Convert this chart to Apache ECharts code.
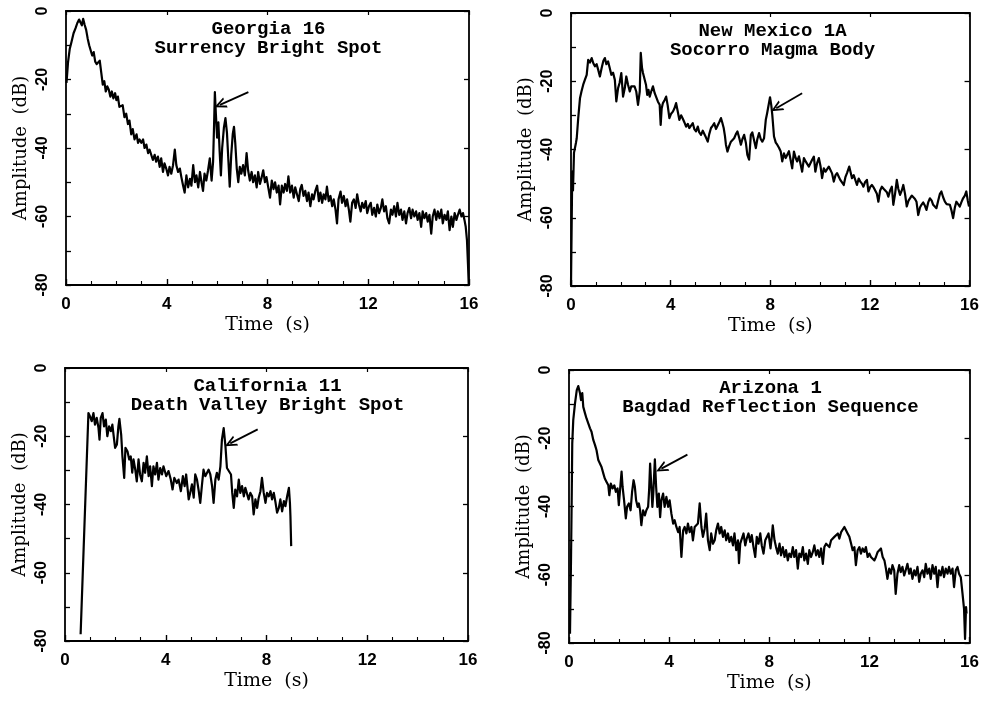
<!DOCTYPE html>
<html>
<head>
<meta charset="utf-8">
<script src="https://cdn.jsdelivr.net/npm/echarts@6/dist/echarts.min.js"></script>
<style>
  html, body { margin: 0; padding: 0; background: #fff; }
  #chart { width: 982px; height: 702px; }
</style>
</head>
<body>
<div id="chart"></div>
<script>
// time (s), amplitude (dB)
const georgia16 = [[0.02,-21],[0.08,-15],[0.15,-11],[0.22,-9],[0.3,-6.5],[0.38,-5],[0.45,-3.5],[0.52,-2.5],[0.58,-2],[0.63,-4.2],[0.68,-2.3],[0.74,-4],[0.8,-5.5],[0.86,-8],[0.92,-10],[0.98,-10.5],[1.04,-13],[1.1,-12],[1.16,-14.8],[1.22,-15.5],[1.28,-16],[1.34,-14.5],[1.4,-18],[1.46,-21.5],[1.52,-20.5],[1.58,-23.5],[1.64,-22],[1.7,-23],[1.76,-25],[1.82,-23.5],[1.88,-25.5],[1.95,-24],[2.0,-26],[2.06,-25],[2.12,-28],[2.19,-28.5],[2.25,-27.5],[2.32,-31],[2.39,-30],[2.46,-33],[2.52,-32],[2.59,-36],[2.65,-34.5],[2.72,-37.5],[2.8,-36],[2.86,-38.5],[2.92,-37.5],[2.99,-38.5],[3.06,-37.5],[3.12,-40],[3.19,-39],[3.26,-41.5],[3.32,-40.5],[3.39,-41],[3.45,-43.5],[3.52,-42],[3.58,-44],[3.65,-42.5],[3.72,-45.5],[3.78,-43],[3.85,-47],[3.91,-44.5],[3.98,-46],[4.05,-48],[4.11,-45.5],[4.18,-47.5],[4.25,-45],[4.32,-40.5],[4.38,-45],[4.45,-47],[4.52,-46],[4.58,-48.5],[4.65,-51],[4.71,-53],[4.78,-48],[4.85,-51.5],[4.92,-49],[4.98,-51],[5.05,-45],[5.12,-50],[5.18,-48],[5.25,-51.5],[5.32,-47],[5.38,-50],[5.44,-52.5],[5.5,-47.5],[5.57,-49.5],[5.64,-46.5],[5.71,-43],[5.78,-49.5],[5.84,-44],[5.88,-33],[5.91,-23.7],[5.95,-30],[6.0,-37],[6.05,-32.5],[6.1,-41],[6.15,-48],[6.2,-40],[6.27,-34],[6.33,-31.3],[6.39,-35.5],[6.45,-44],[6.5,-51.3],[6.56,-42],[6.62,-36],[6.67,-33.8],[6.72,-38.5],[6.78,-46],[6.84,-50],[6.9,-45.5],[6.96,-47.5],[7.03,-45],[7.1,-48],[7.17,-41.5],[7.23,-46.5],[7.3,-49.5],[7.37,-47],[7.43,-50],[7.5,-48],[7.57,-51.5],[7.63,-47],[7.7,-50.5],[7.77,-48.5],[7.83,-46.5],[7.9,-50],[7.96,-48.5],[8.03,-51.5],[8.1,-54.5],[8.17,-49.5],[8.24,-52],[8.3,-50],[8.37,-53],[8.44,-51],[8.5,-56.5],[8.57,-51],[8.64,-53],[8.7,-50.5],[8.77,-52.5],[8.83,-48.3],[8.9,-53],[8.97,-51],[9.04,-54.5],[9.1,-51.5],[9.17,-53.5],[9.24,-55.5],[9.3,-52],[9.36,-50.8],[9.43,-54],[9.5,-52.5],[9.57,-55.5],[9.63,-53],[9.7,-57],[9.77,-53.5],[9.83,-55],[9.9,-52.5],[9.97,-51],[10.04,-55.5],[10.1,-53],[10.17,-56],[10.23,-53.5],[10.3,-55],[10.36,-51.3],[10.43,-55.5],[10.5,-54],[10.57,-57],[10.63,-55],[10.7,-58],[10.76,-62],[10.82,-55],[10.9,-52.7],[10.96,-56],[11.03,-54],[11.1,-57],[11.16,-55],[11.23,-58],[11.29,-61.5],[11.36,-56],[11.43,-55],[11.5,-57.5],[11.56,-53.5],[11.63,-56.5],[11.7,-58.5],[11.76,-56],[11.83,-57.5],[11.9,-55.5],[11.96,-59],[12.03,-57],[12.1,-56],[12.16,-59.5],[12.23,-57.5],[12.3,-60],[12.36,-56.5],[12.43,-59],[12.5,-57.5],[12.56,-55],[12.63,-58.5],[12.7,-57],[12.76,-60.5],[12.83,-62],[12.9,-58],[12.96,-59.5],[13.03,-57],[13.1,-60],[13.16,-56],[13.23,-59.5],[13.3,-58],[13.36,-61],[13.43,-58.5],[13.5,-62],[13.56,-59],[13.63,-57.5],[13.7,-60.5],[13.76,-58],[13.83,-60],[13.9,-58.5],[13.96,-61],[14.03,-59],[14.1,-63],[14.16,-58.5],[14.23,-60.5],[14.3,-59],[14.36,-61.5],[14.43,-59.5],[14.5,-65],[14.56,-60],[14.63,-58],[14.7,-61],[14.76,-58.5],[14.83,-60.5],[14.9,-58],[14.96,-62],[15.03,-59.5],[15.1,-61],[15.16,-58.5],[15.23,-64],[15.3,-60],[15.36,-63],[15.43,-59],[15.5,-61],[15.56,-59.5],[15.63,-58],[15.7,-60],[15.76,-59],[15.82,-61],[15.87,-63],[15.92,-67],[15.96,-74],[15.99,-80]];

const newMexico1A = [[0.0,-79.7],[0.03,-60],[0.05,-46.5],[0.08,-52],[0.12,-41],[0.16,-40.6],[0.2,-38],[0.23,-36.7],[0.29,-30.8],[0.36,-25],[0.42,-23],[0.49,-21],[0.56,-19.5],[0.63,-18.1],[0.69,-13.7],[0.76,-14.5],[0.83,-13.2],[0.9,-14.8],[0.96,-15.6],[1.03,-15],[1.09,-16.6],[1.16,-18.6],[1.23,-16.1],[1.3,-14],[1.36,-13.2],[1.42,-15],[1.49,-14.2],[1.55,-16],[1.62,-18.1],[1.69,-17.5],[1.76,-19.6],[1.82,-25.9],[1.89,-22],[1.95,-20.5],[2.02,-17.6],[2.09,-24.5],[2.16,-22],[2.22,-18.6],[2.29,-21],[2.36,-23],[2.42,-21.5],[2.49,-22],[2.55,-21.5],[2.62,-23],[2.69,-26.9],[2.76,-23],[2.8,-11.7],[2.85,-16],[2.89,-17.6],[2.96,-17.1],[3.01,-21],[3.06,-24],[3.11,-22.5],[3.16,-24.5],[3.22,-23],[3.29,-21.5],[3.36,-23.5],[3.42,-24],[3.49,-26],[3.56,-26.9],[3.6,-32.8],[3.64,-28],[3.69,-26.4],[3.76,-25.5],[3.82,-24.5],[3.88,-27],[3.95,-30.8],[4.02,-29.5],[4.09,-28.9],[4.15,-28],[4.22,-26.4],[4.29,-29],[4.35,-31.3],[4.42,-30],[4.49,-31],[4.55,-32],[4.62,-33.3],[4.69,-32.5],[4.75,-33.7],[4.82,-33],[4.89,-32.3],[4.95,-34],[5.02,-34.7],[5.09,-33.3],[5.15,-35],[5.22,-35.7],[5.29,-34.5],[5.35,-34.7],[5.42,-36.5],[5.49,-37.7],[5.55,-35.5],[5.62,-33.7],[5.69,-33],[5.75,-32.3],[5.82,-34],[5.89,-34.2],[5.95,-32],[6.02,-30.8],[6.07,-32],[6.13,-33.7],[6.18,-36],[6.22,-38.6],[6.28,-40.6],[6.35,-39],[6.42,-37.7],[6.48,-38],[6.55,-36.7],[6.62,-35.5],[6.68,-34.7],[6.75,-36.5],[6.82,-38.6],[6.88,-37],[6.95,-35.7],[7.02,-38],[7.08,-41.6],[7.15,-43],[7.22,-35.7],[7.28,-35],[7.35,-34.7],[7.42,-39.6],[7.48,-37],[7.55,-35.2],[7.62,-37],[7.68,-37.7],[7.75,-36.7],[7.82,-31.3],[7.87,-29.5],[7.91,-27.9],[7.99,-24.7],[8.04,-27],[8.08,-29.8],[8.15,-36.2],[8.22,-38],[8.28,-38.6],[8.35,-39.5],[8.42,-40.6],[8.48,-43.5],[8.55,-41.1],[8.62,-42.5],[8.68,-42.1],[8.75,-40.5],[8.81,-40.1],[8.88,-45.5],[8.95,-40.6],[9.02,-42.5],[9.08,-43.5],[9.15,-42],[9.21,-41.6],[9.28,-46.5],[9.35,-42.5],[9.42,-43.5],[9.48,-43.5],[9.55,-45],[9.61,-44.5],[9.68,-43],[9.75,-42.1],[9.81,-46.5],[9.88,-44],[9.95,-42.5],[10.02,-45],[10.08,-48.4],[10.15,-45.5],[10.22,-46.5],[10.28,-46.5],[10.35,-45],[10.41,-45.5],[10.48,-47],[10.55,-49.4],[10.62,-47.5],[10.68,-46.9],[10.75,-48],[10.81,-48.9],[10.88,-49],[10.95,-50.4],[11.02,-48],[11.08,-46.9],[11.17,-45],[11.22,-46.5],[11.28,-48.4],[11.35,-47.5],[11.41,-47.4],[11.48,-50.4],[11.55,-48.5],[11.61,-49.4],[11.68,-50],[11.74,-50.9],[11.81,-49.5],[11.88,-48.9],[11.94,-52.3],[12.01,-51],[12.08,-50.4],[12.14,-51],[12.21,-51.3],[12.28,-53],[12.34,-55.3],[12.41,-52],[12.48,-50.9],[12.55,-51.5],[12.61,-51.8],[12.68,-52.5],[12.74,-53.8],[12.81,-52],[12.88,-50.9],[12.94,-56.2],[13.01,-53],[13.08,-48.9],[13.14,-51.5],[13.21,-53.3],[13.28,-52],[13.34,-50.4],[13.41,-53],[13.48,-56.7],[13.55,-55],[13.61,-54.3],[13.68,-53.5],[13.74,-53.8],[13.81,-54.5],[13.87,-55.3],[13.94,-59.2],[14.01,-57],[14.07,-56.2],[14.14,-55.5],[14.21,-56.5],[14.27,-57.7],[14.34,-55.5],[14.41,-54.3],[14.48,-55],[14.54,-56.2],[14.61,-56.5],[14.67,-57.2],[14.74,-55],[14.81,-53],[14.87,-52.3],[14.94,-54],[15.01,-55.3],[15.08,-56],[15.14,-55.5],[15.21,-56.2],[15.28,-58],[15.34,-60.1],[15.41,-57],[15.47,-55.3],[15.54,-56],[15.61,-56.7],[15.67,-55.5],[15.74,-54.3],[15.81,-53.5],[15.87,-52.3],[15.93,-55],[15.98,-56.7]];

const california11 = [[0.62,-78],[0.93,-13.2],[0.99,-14.1],[1.06,-15.6],[1.13,-13.2],[1.19,-16.6],[1.26,-14.6],[1.33,-17.6],[1.37,-21],[1.42,-14.6],[1.49,-13.2],[1.55,-17.1],[1.62,-15.1],[1.68,-20],[1.75,-17.1],[1.82,-18.5],[1.88,-16.6],[1.95,-21],[1.99,-23.4],[2.06,-22.4],[2.12,-17.1],[2.16,-14.9],[2.23,-19.5],[2.28,-25.9],[2.35,-32.2],[2.4,-23.4],[2.48,-24.4],[2.55,-26.8],[2.61,-25.9],[2.67,-30.7],[2.72,-26.8],[2.79,-29.8],[2.85,-33.2],[2.92,-26.8],[2.98,-31.2],[3.05,-33.2],[3.12,-27.8],[3.18,-30.7],[3.25,-25.9],[3.32,-31.7],[3.38,-28.8],[3.45,-34.6],[3.51,-28.8],[3.58,-31.2],[3.65,-27.8],[3.71,-32.7],[3.78,-29.3],[3.85,-31.2],[3.91,-28.8],[4.02,-31.7],[4.11,-30.2],[4.2,-32.7],[4.27,-35.6],[4.34,-32.2],[4.44,-33.7],[4.51,-32.7],[4.6,-36.1],[4.68,-31.7],[4.75,-34.6],[4.81,-31.2],[4.91,-38.5],[4.97,-36.6],[5.04,-34.1],[5.11,-38],[5.17,-31.2],[5.24,-32.7],[5.31,-36.1],[5.37,-39.5],[5.44,-34.1],[5.5,-29.8],[5.57,-31.7],[5.64,-30.7],[5.7,-29.8],[5.77,-31.2],[5.84,-34.6],[5.9,-39.5],[5.97,-32.7],[6.03,-30.7],[6.1,-32.7],[6.17,-28.8],[6.23,-21],[6.3,-17.6],[6.37,-22.9],[6.43,-29.3],[6.5,-29.3],[6.59,-31.2],[6.64,-36.6],[6.7,-41],[6.76,-35.6],[6.83,-37.6],[6.9,-32.7],[6.96,-36.6],[7.03,-34.6],[7.1,-37.6],[7.16,-35.1],[7.23,-35.6],[7.29,-38.5],[7.36,-36.6],[7.43,-37.6],[7.49,-42.9],[7.56,-38.5],[7.63,-41],[7.69,-38],[7.76,-36.1],[7.82,-32.2],[7.89,-36.6],[7.96,-39.5],[8.02,-36.6],[8.09,-37.6],[8.16,-36.1],[8.22,-38.5],[8.29,-36.6],[8.36,-39.5],[8.42,-42.4],[8.49,-41],[8.55,-38.5],[8.62,-42],[8.69,-39],[8.75,-40.5],[8.82,-37.6],[8.89,-35.1],[8.93,-39.5],[8.95,-43.4],[8.98,-52.2]];

const arizona1 = [[0.04,-77.3],[0.08,-55.8],[0.11,-36.2],[0.13,-21.5],[0.17,-14.7],[0.24,-9.8],[0.31,-5.9],[0.37,-4.7],[0.44,-6.8],[0.48,-8.8],[0.53,-6.8],[0.57,-10.8],[0.64,-12.7],[0.7,-14.2],[0.77,-13.7],[0.84,-17.1],[0.9,-18.1],[0.97,-20.5],[1.04,-22],[1.1,-23.5],[1.17,-26.4],[1.24,-25.9],[1.3,-28.4],[1.37,-30.3],[1.43,-31.8],[1.5,-32.8],[1.57,-33.8],[1.61,-36.7],[1.67,-33.3],[1.74,-34.7],[1.81,-33.8],[1.87,-35.7],[1.94,-34.7],[1.99,-39.6],[2.05,-34.2],[2.1,-29.8],[2.14,-34.2],[2.2,-38.2],[2.27,-43.5],[2.32,-40.1],[2.39,-39.1],[2.46,-41.1],[2.52,-35.7],[2.58,-32.3],[2.63,-34.2],[2.68,-38.2],[2.74,-40.1],[2.79,-39.1],[2.84,-41.1],[2.89,-45.5],[2.96,-41.1],[3.03,-42.6],[3.09,-41.1],[3.16,-40.1],[3.2,-35.2],[3.24,-27.4],[3.29,-34.2],[3.33,-40.1],[3.37,-35.7],[3.43,-26.2],[3.48,-34.2],[3.53,-40.1],[3.59,-36.2],[3.64,-43.1],[3.69,-38.2],[3.76,-36.2],[3.82,-40.1],[3.89,-37.2],[3.96,-40.1],[4.02,-38.2],[4.09,-42.1],[4.16,-45],[4.22,-44],[4.29,-46],[4.36,-47.5],[4.42,-46],[4.49,-54.8],[4.56,-47],[4.62,-46],[4.69,-47.9],[4.75,-45],[4.82,-47.5],[4.89,-46],[4.95,-49.9],[5.02,-46],[5.09,-46.5],[5.15,-45],[5.22,-39.1],[5.29,-46],[5.35,-48.9],[5.42,-46.5],[5.48,-42.1],[5.55,-49.9],[5.62,-52.8],[5.68,-47.9],[5.75,-50.9],[5.82,-49.9],[5.88,-47],[5.95,-45],[6.02,-47.9],[6.08,-46],[6.15,-48.9],[6.22,-47],[6.28,-49.9],[6.35,-47.9],[6.41,-50.4],[6.48,-48.9],[6.55,-51.4],[6.61,-47.9],[6.68,-52.8],[6.75,-49.9],[6.79,-56.6],[6.84,-50.9],[6.91,-50.4],[6.97,-47.9],[7.04,-51.4],[7.1,-49.4],[7.17,-47.9],[7.24,-50.4],[7.3,-48.4],[7.37,-51.9],[7.44,-54.8],[7.5,-48.9],[7.57,-50.9],[7.64,-47.9],[7.7,-51.4],[7.77,-53.8],[7.84,-49.9],[7.9,-50.4],[7.97,-47.9],[8.05,-52.3],[8.1,-48.9],[8.14,-45.5],[8.21,-49.9],[8.27,-51.9],[8.34,-53.8],[8.41,-50.9],[8.47,-54.3],[8.54,-51.9],[8.61,-54.8],[8.67,-52.8],[8.74,-55.8],[8.8,-53.8],[8.87,-54.8],[8.94,-51.9],[9.0,-54.8],[9.07,-52.8],[9.14,-58.2],[9.2,-53.8],[9.27,-54.8],[9.34,-51.9],[9.4,-55.8],[9.47,-53.8],[9.54,-56.8],[9.6,-52.8],[9.67,-54.8],[9.74,-53.3],[9.8,-51.4],[9.87,-54.3],[9.94,-52.8],[10.0,-54.8],[10.07,-52.3],[10.14,-56.8],[10.2,-51.9],[10.27,-50.9],[10.34,-50.4],[10.4,-51.9],[10.47,-49.9],[10.54,-50.4],[10.6,-48.9],[10.67,-48.4],[10.74,-47.9],[10.8,-49.4],[10.87,-47.5],[10.94,-47],[11.0,-46],[11.07,-47],[11.13,-47.9],[11.2,-48.9],[11.27,-50.9],[11.33,-52.8],[11.4,-51.9],[11.46,-57.2],[11.53,-52.8],[11.6,-51.9],[11.66,-53.8],[11.73,-52.3],[11.8,-53.3],[11.86,-51.9],[11.93,-54.8],[12.0,-53.8],[12.06,-54.8],[12.13,-54.3],[12.2,-55.8],[12.26,-54.8],[12.33,-53.3],[12.4,-53.8],[12.46,-52.3],[12.53,-54.8],[12.6,-55.8],[12.66,-58.2],[12.72,-61.2],[12.79,-58.2],[12.86,-59.7],[12.92,-57.2],[12.99,-58.7],[13.05,-65.6],[13.12,-59.7],[13.19,-57.2],[13.25,-59.2],[13.32,-57.7],[13.39,-60.2],[13.45,-58.7],[13.52,-56.8],[13.59,-59.7],[13.65,-58.2],[13.72,-61.2],[13.79,-58.7],[13.85,-60.2],[13.92,-57.7],[13.99,-62.1],[14.05,-59.7],[14.12,-58.7],[14.19,-60.7],[14.25,-56.8],[14.32,-59.7],[14.39,-58.2],[14.45,-61.2],[14.52,-57.2],[14.59,-59.7],[14.65,-57.7],[14.72,-63.6],[14.78,-58.7],[14.85,-60.2],[14.92,-57.7],[14.98,-60.7],[15.05,-58.2],[15.12,-59.7],[15.18,-57.7],[15.25,-59.7],[15.32,-58.2],[15.38,-63.6],[15.45,-58.7],[15.52,-57.7],[15.58,-59.7],[15.65,-60.7],[15.72,-65.6],[15.78,-70],[15.82,-78.8],[15.86,-69.5],[15.88,-71.4]];

const panelTitles = [
  'Georgia 16\nSurrency Bright Spot',
  'New Mexico 1A\nSocorro Magma Body',
  'California 11\nDeath Valley Bright Spot',
  'Arizona 1\nBagdad Reflection Sequence'
];
// arrows: [tail, tip] in (s, dB)
const arrowTails = [[7.24,-23.7],[9.28,-23.5],[7.65,-18.0],[4.73,-24.8]];
const arrowTips = [[6.11,-27.4],[8.24,-27.9],[6.56,-22.1],[3.69,-28.9]];

const traces = [georgia16, newMexico1A, california11, arizona1];

// plot boxes in pixels
const boxes = [
  {left: 66, top: 11, width: 403, height: 274},
  {left: 571, top: 13, width: 401, height: 273},
  {left: 65, top: 368, width: 403, height: 273},
  {left: 569, top: 370, width: 401, height: 273}
];

const black = '#000';
const tickFont = {color: black, fontFamily: 'Liberation Sans, Arial, sans-serif', fontWeight: 'bold', fontSize: 17};
const nameFont = {color: black, fontFamily: 'DejaVu Serif, serif', fontSize: 18};
const chevron = 'path://M5,0L10,11L8.2,11L5,4L1.8,11L0,11Z';

let grid = [], xAxis = [], yAxis = [], series = [], title = [];

boxes.forEach((b, i) => {
  grid.push({left: b.left, top: b.top, width: b.width, height: b.height, containLabel: false});

  title.push({
    text: panelTitles[i],
    left: b.left + b.width / 2 + 1,
    top: b.top + 9,
    textAlign: 'center',
    padding: 0,
    textStyle: {color: black, fontFamily: 'Liberation Mono, monospace', fontWeight: 'bold', fontSize: 19, lineHeight: 19}
  });

  // bottom time axis
  xAxis.push({
    gridIndex: i, type: 'value', position: 'bottom', min: 0, max: 16, interval: 4,
    axisLine: {onZero: false, lineStyle: {color: black, width: 1.8}},
    axisTick: {inside: true, length: 6, lineStyle: {color: black, width: 1.4}},
    minorTick: {show: true, splitNumber: 4, length: 4, lineStyle: {color: black, width: 1.1}},
    splitLine: {show: false},
    axisLabel: Object.assign({margin: 11}, tickFont),
    name: 'Time  (s)', nameLocation: 'middle', nameGap: 31,
    nameTextStyle: Object.assign({}, nameFont, {fontSize: 19})
  });
  // top frame
  xAxis.push({
    gridIndex: i, type: 'value', position: 'top', min: 0, max: 16, interval: 4,
    axisLine: {onZero: false, lineStyle: {color: black, width: 1.8}},
    axisTick: {inside: true, length: 4, lineStyle: {color: black, width: 1.2}},
    axisLabel: {show: false}, splitLine: {show: false}
  });
  // left amplitude axis
  yAxis.push({
    gridIndex: i, type: 'value', position: 'left', min: -80, max: 0, interval: 20,
    axisLine: {onZero: false, lineStyle: {color: black, width: 1.8}},
    axisTick: {inside: true, length: 5, lineStyle: {color: black, width: 1.3}},
    minorTick: {show: true, splitNumber: 2, length: 5, lineStyle: {color: black, width: 1.3}},
    splitLine: {show: false},
    axisLabel: Object.assign({margin: 15, rotate: 90}, tickFont, {fontSize: 16}),
    name: 'Amplitude  (dB)', nameLocation: 'middle', nameGap: 36, nameRotate: 90, nameTextStyle: nameFont
  });
  // right frame
  yAxis.push({
    gridIndex: i, type: 'value', position: 'right', min: -80, max: 0, interval: 20,
    axisLine: {onZero: false, lineStyle: {color: black, width: 1.8}},
    axisTick: {inside: true, length: 5, lineStyle: {color: black, width: 1.3}},
    axisLabel: {show: false}, splitLine: {show: false}
  });

  series.push({
    type: 'line',
    xAxisIndex: 2 * i, yAxisIndex: 2 * i,
    data: traces[i],
    showSymbol: false,
    lineStyle: {color: black, width: 2.2, join: 'round'},
    silent: true,
    markLine: {
      silent: true,
      symbol: ['none', chevron],
      symbolSize: [11, 12],
      label: {show: false},
      lineStyle: {color: black, width: 1.8, type: 'solid'},
      data: [[{coord: arrowTails[i]}, {coord: arrowTips[i]}]]
    }
  });
});

const chart = echarts.init(document.getElementById('chart'), null, {renderer: 'canvas'});
chart.setOption({
  animation: false,
  backgroundColor: '#fff',
  title, grid, xAxis, yAxis, series
});
</script>
</body>
</html>
